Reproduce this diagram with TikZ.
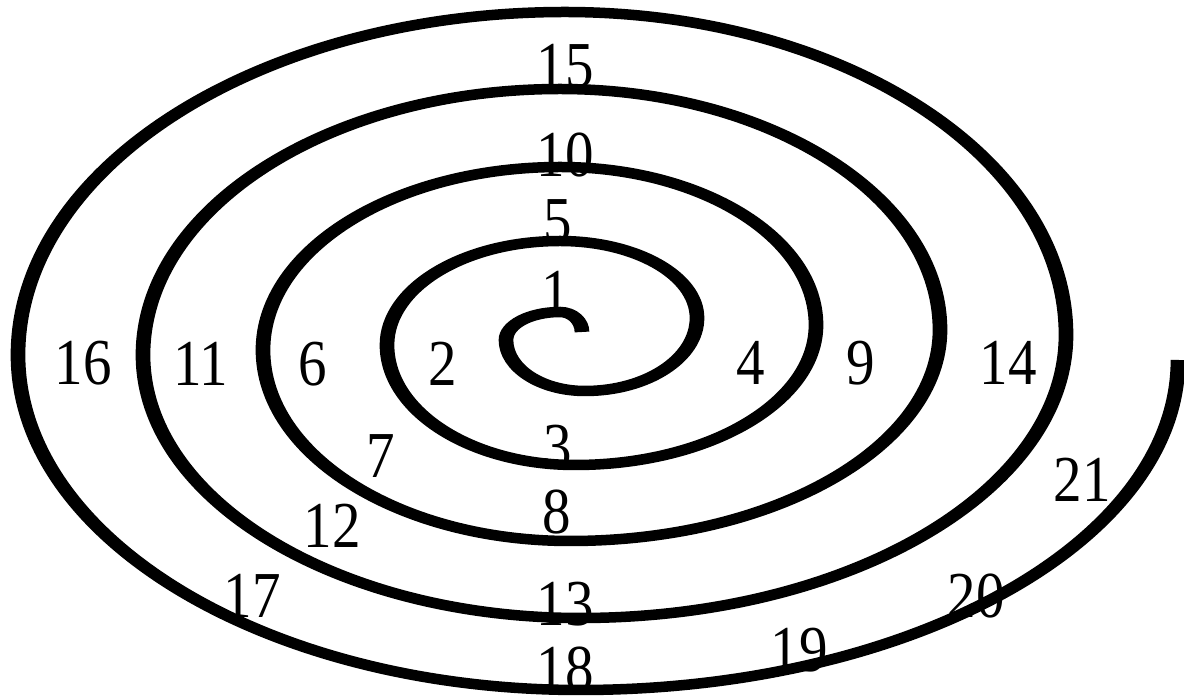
\documentclass[tikz,border=0pt]{standalone}
\usepackage{graphicx}
\usepackage{fontspec}
\setmainfont{Liberation Serif}
\begin{document}
\begin{tikzpicture}[x=1pt,y=1pt,
  lbl/.style={font=\fontsize{57}{60}\selectfont, inner sep=0pt},
  spiral/.style={line width=10.5pt, line cap=butt}]
\useasboundingbox (0,0) rectangle (1184,696);
\begin{scope}[transform canvas={xscale=1.4}, x=0.714286pt, y=1pt]
\draw[spiral] (582,364)
  arc[start angle=0,  end angle=90,  x radius=22,  y radius=20]
  arc[start angle=90, end angle=180, x radius=54,  y radius=28]
  arc[start angle=180,end angle=270, x radius=79,  y radius=51]
  arc[start angle=270,end angle=360, x radius=112, y radius=73]
  arc[start angle=0,  end angle=90,  x radius=137, y radius=77]
  arc[start angle=90, end angle=180, x radius=173, y radius=104]
  arc[start angle=180,end angle=270, x radius=188, y radius=120]
  arc[start angle=270,end angle=360, x radius=241, y radius=140]
  arc[start angle=0,  end angle=90,  x radius=256, y radius=158]
  arc[start angle=90, end angle=180, x radius=297, y radius=183]
  arc[start angle=180,end angle=270, x radius=307, y radius=191]
  arc[start angle=270,end angle=360, x radius=370, y radius=211]
  arc[start angle=0,  end angle=90,  x radius=380, y radius=241]
  arc[start angle=90, end angle=180, x radius=417, y radius=266]
  arc[start angle=180,end angle=270, x radius=437, y radius=263]
  arc[start angle=270,end angle=360, x radius=486, y radius=283]
  arc[start angle=0,  end angle=90,  x radius=501, y radius=323]
  arc[start angle=90, end angle=180, x radius=547, y radius=343]
  arc[start angle=180,end angle=270, x radius=562, y radius=335]
  arc[start angle=270,end angle=360, x radius=598, y radius=330];
\end{scope}
\node[lbl] (n1)  at (556,403) {\scalebox{1}[1.15]{1}};
\node[lbl] (n2)  at (443,332) {\scalebox{1}[1.15]{2}};
\node[lbl] (n3)  at (558,249) {\scalebox{1}[1.15]{3}};
\node[lbl] (n4)  at (751,333) {\scalebox{1}[1.15]{4}};
\node[lbl] (n5)  at (558,475) {\scalebox{1}[1.15]{5}};
\node[lbl] (n6)  at (313,332) {\scalebox{1}[1.15]{6}};
\node[lbl] (n7)  at (381,240) {\scalebox{1}[1.15]{7}};
\node[lbl] (n8)  at (557,184) {\scalebox{1}[1.15]{8}};
\node[lbl] (n9)  at (861,333) {\scalebox{1}[1.15]{9}};
\node[lbl] (n10) at (565,541) {\scalebox{1}[1.15]{10}};
\node[lbl] (n11) at (201,332) {\scalebox{1}[1.15]{11}};
\node[lbl] (n12) at (332,170) {\scalebox{1}[1.15]{12}};
\node[lbl] (n13) at (565,92)  {\scalebox{1}[1.15]{13}};
\node[lbl] (n14) at (1008,333) {\scalebox{1}[1.15]{14}};
\node[lbl] (n15) at (565,630) {\scalebox{1}[1.15]{15}};
\node[lbl] (n16) at (83,333)  {\scalebox{1}[1.15]{16}};
\node[lbl] (n17) at (252,100) {\scalebox{1}[1.15]{17}};
\node[lbl] (n18) at (565,27)  {\scalebox{1}[1.15]{18}};
\node[lbl] (n19) at (799,46)  {\scalebox{1}[1.15]{19}};
\node[lbl] (n20) at (976,100) {\scalebox{1}[1.15]{20}};
\node[lbl] (n21) at (1082,216) {\scalebox{1}[1.15]{21}};
\end{tikzpicture}
\end{document}
